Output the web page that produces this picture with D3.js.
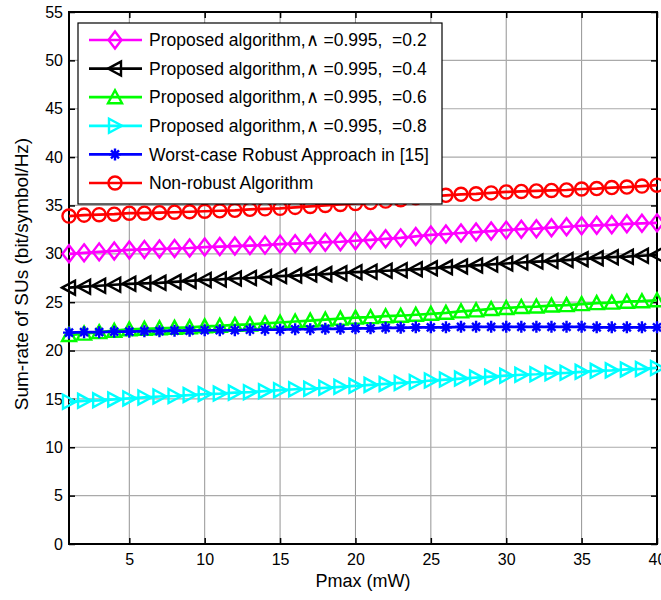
<!DOCTYPE html>
<html>
<head>
<meta charset="utf-8">
<script src="https://cdn.jsdelivr.net/npm/d3@7"></script>
<style>
  body {margin: 0; background: #fff;}
  svg {display: block; font-family: 'Liberation Sans', Arial, sans-serif;}
</style>
</head>
<body>
<svg id="chart" width="661" height="600"></svg>
<script>
const pmax = d3.range(1, 41);

const seriesNames = [
  'Proposed algorithm,\u2227 =0.995,  =0.2',
  'Proposed algorithm,\u2227 =0.995,  =0.4',
  'Proposed algorithm,\u2227 =0.995,  =0.6',
  'Proposed algorithm,\u2227 =0.995,  =0.8',
  'Worst-case Robust Approach in [15]',
  'Non-robust Algorithm',
];

const proposed02 = [30.0, 30.1, 30.2, 30.3, 30.4, 30.45, 30.5, 30.55, 30.6, 30.7,
  30.75, 30.8, 30.85, 30.9, 31.0, 31.05, 31.1, 31.2, 31.25, 31.35,
  31.45, 31.55, 31.65, 31.8, 31.95, 32.05, 32.15, 32.25, 32.35, 32.45,
  32.55, 32.6, 32.7, 32.8, 32.9, 32.95, 33.0, 33.1, 33.15, 33.2];
const proposed04 = [26.5, 26.6, 26.7, 26.8, 26.9, 26.95, 27.0, 27.1, 27.2, 27.3,
  27.35, 27.45, 27.5, 27.6, 27.7, 27.75, 27.85, 27.9, 28.0, 28.1,
  28.15, 28.25, 28.3, 28.4, 28.5, 28.6, 28.7, 28.8, 28.9, 29.0,
  29.1, 29.2, 29.25, 29.35, 29.45, 29.55, 29.65, 29.7, 29.8, 29.9];
const proposed06 = [21.6, 21.75, 21.9, 22.05, 22.2, 22.25, 22.3, 22.35, 22.4, 22.5,
  22.55, 22.65, 22.7, 22.8, 22.9, 23.0, 23.1, 23.2, 23.3, 23.4,
  23.45, 23.55, 23.6, 23.7, 23.8, 23.9, 24.05, 24.15, 24.3, 24.4,
  24.5, 24.55, 24.65, 24.7, 24.8, 24.9, 24.95, 25.05, 25.1, 25.2];
const proposed08 = [14.7, 14.8, 14.85, 14.95, 15.05, 15.15, 15.25, 15.3, 15.4, 15.5,
  15.55, 15.65, 15.7, 15.8, 15.9, 16.0, 16.05, 16.15, 16.25, 16.35,
  16.45, 16.55, 16.65, 16.75, 16.9, 17.0, 17.1, 17.2, 17.3, 17.4,
  17.5, 17.55, 17.65, 17.7, 17.8, 17.9, 17.95, 18.05, 18.1, 18.2];
const worstCase = [21.85, 21.9, 21.9, 21.95, 21.95, 22.0, 22.0, 22.05, 22.05, 22.1,
  22.1, 22.1, 22.15, 22.15, 22.15, 22.2, 22.2, 22.25, 22.25, 22.3,
  22.3, 22.35, 22.35, 22.4, 22.4, 22.4, 22.45, 22.45, 22.45, 22.45,
  22.45, 22.45, 22.45, 22.45, 22.45, 22.4, 22.4, 22.4, 22.4, 22.4];
const nonRobust = [33.9, 34.0, 34.05, 34.1, 34.2, 34.2, 34.25, 34.3, 34.35, 34.4,
  34.45, 34.5, 34.6, 34.65, 34.7, 34.8, 34.9, 35.0, 35.1, 35.2,
  35.3, 35.45, 35.6, 35.8, 35.95, 36.05, 36.15, 36.2, 36.3, 36.4,
  36.45, 36.5, 36.55, 36.6, 36.7, 36.75, 36.85, 36.9, 37.0, 37.1];

const xTicks = [5, 10, 15, 20, 25, 30, 35, 40];
const yTicks = [0, 5, 10, 15, 20, 25, 30, 35, 40, 45, 50, 55];

const series = [
  {name: seriesNames[0], values: proposed02, color: '#ff00ff', marker: 'diamond'},
  {name: seriesNames[1], values: proposed04, color: '#000000', marker: 'left'},
  {name: seriesNames[2], values: proposed06, color: '#00ff00', marker: 'up'},
  {name: seriesNames[3], values: proposed08, color: '#00ffff', marker: 'right'},
  {name: seriesNames[4], values: worstCase, color: '#0000ff', marker: 'star'},
  {name: seriesNames[5], values: nonRobust, color: '#ff0000', marker: 'circle'},
];

const svg = d3.select('#chart');
const pLeft = 69; const pRight = 657; const pTop = 12; const pBottom = 544;

const x = d3.scaleLinear().domain([1, 40]).range([pLeft, pRight]);
const y = d3.scaleLinear().domain([0, 55]).range([pBottom, pTop]);

// grid
const grid = svg.append('g');
grid.selectAll('line.gx').data(xTicks).enter().append('line')
    .attr('x1', (d)=>x(d)).attr('x2', (d)=>x(d))
    .attr('y1', pTop).attr('y2', pBottom)
    .style('stroke', '#777').style('stroke-width', 0.8);
grid.selectAll('line.gy').data(yTicks).enter().append('line')
    .attr('y1', (d)=>y(d)).attr('y2', (d)=>y(d))
    .attr('x1', pLeft).attr('x2', pRight)
    .style('stroke', '#aaa').style('stroke-width', 1.2);

// axes (ticks inside, on all four sides)
const tickStyle = (g)=>{
  g.select('.domain').remove();
  g.selectAll('.tick line').style('stroke', '#000').style('stroke-width', 1.5);
  g.selectAll('.tick text').style('font-size', '16px').style('fill', '#000')
      .style('font-family', '\'Liberation Sans\', Arial, sans-serif');
};

svg.append('g').attr('transform', `translate(0,${pBottom})`)
    .call(d3.axisBottom(x).tickValues(xTicks).tickSize(-6).tickPadding(10))
    .call(tickStyle);
svg.append('g').attr('transform', `translate(0,${pTop})`)
    .call(d3.axisTop(x).tickValues(xTicks).tickSize(-6).tickFormat(''))
    .call(tickStyle);
svg.append('g').attr('transform', `translate(${pLeft},0)`)
    .call(d3.axisLeft(y).tickValues(yTicks).tickSize(-6).tickPadding(6))
    .call(tickStyle);
svg.append('g').attr('transform', `translate(${pRight},0)`)
    .call(d3.axisRight(y).tickValues(yTicks).tickSize(-6).tickFormat(''))
    .call(tickStyle);

svg.append('rect')
    .attr('x', pLeft).attr('y', pTop)
    .attr('width', pRight-pLeft).attr('height', pBottom-pTop)
    .style('fill', 'none').style('stroke', '#000').style('stroke-width', 2);

const markerPath = (type)=>{
  if (type == 'diamond') return 'M0,-8.5L6.5,0L0,8.5L-6.5,0Z';
  if (type == 'left') return 'M-7,0L6,-7L6,7Z';
  if (type == 'right') return 'M7,0L-6,-7L-6,7Z';
  if (type == 'up') return 'M0,-7L7,6L-7,6Z';
  if (type == 'star') return 'M0,-6L0,6M-6,0L6,0M-4,-4L4,4M-4,4L4,-4';
  return d3.symbol().type(d3.symbolCircle).size(135)();
};

const line = d3.line().x((d, i)=>x(pmax[i])).y((d)=>y(d));

series.forEach((s)=>{
  const g = svg.append('g');
  g.append('path')
      .attr('d', line(s.values))
      .style('fill', 'none').style('stroke', s.color).style('stroke-width', 2.7);
  g.selectAll('path.m').data(s.values).enter().append('path')
      .attr('transform', (d, i)=>`translate(${x(pmax[i])},${y(d)})`)
      .attr('d', markerPath(s.marker))
      .style('fill', s.marker == 'star' ? s.color : 'none')
      .style('stroke', s.color).style('stroke-width', 2.4);
});

// legend
const legend = svg.append('g');
legend.append('rect')
    .attr('x', 78).attr('y', 23).attr('width', 364).attr('height', 181)
    .style('fill', '#fff').style('stroke', '#000').style('stroke-width', 1.2);

series.forEach((s, si)=>{
  const ly = 40 + si*28.6;
  legend.append('line')
      .attr('x1', 89).attr('x2', 142).attr('y1', ly).attr('y2', ly)
      .style('stroke', s.color).style('stroke-width', 2.7);
  legend.append('path')
      .attr('transform', `translate(115,${ly})`)
      .attr('d', markerPath(s.marker))
      .style('fill', s.marker == 'star' ? s.color : 'none')
      .style('stroke', s.color).style('stroke-width', 2.4);
  legend.append('text')
      .attr('x', 149).attr('y', ly).attr('dy', '0.35em')
      .style('font-size', '17.5px').style('fill', '#000')
      .style('white-space', 'pre')
      .text(s.name);
});

// axis labels
svg.append('text')
    .attr('x', x(20.5)).attr('y', 587)
    .attr('text-anchor', 'middle')
    .style('font-size', '18px')
    .text('Pmax (mW)');

svg.append('text')
    .attr('transform', `translate(28,274) rotate(-90)`)
    .attr('text-anchor', 'middle')
    .style('font-size', '19px')
    .text('Sum-rate of SUs (bit/symbol/Hz)');
</script>
</body>
</html>
